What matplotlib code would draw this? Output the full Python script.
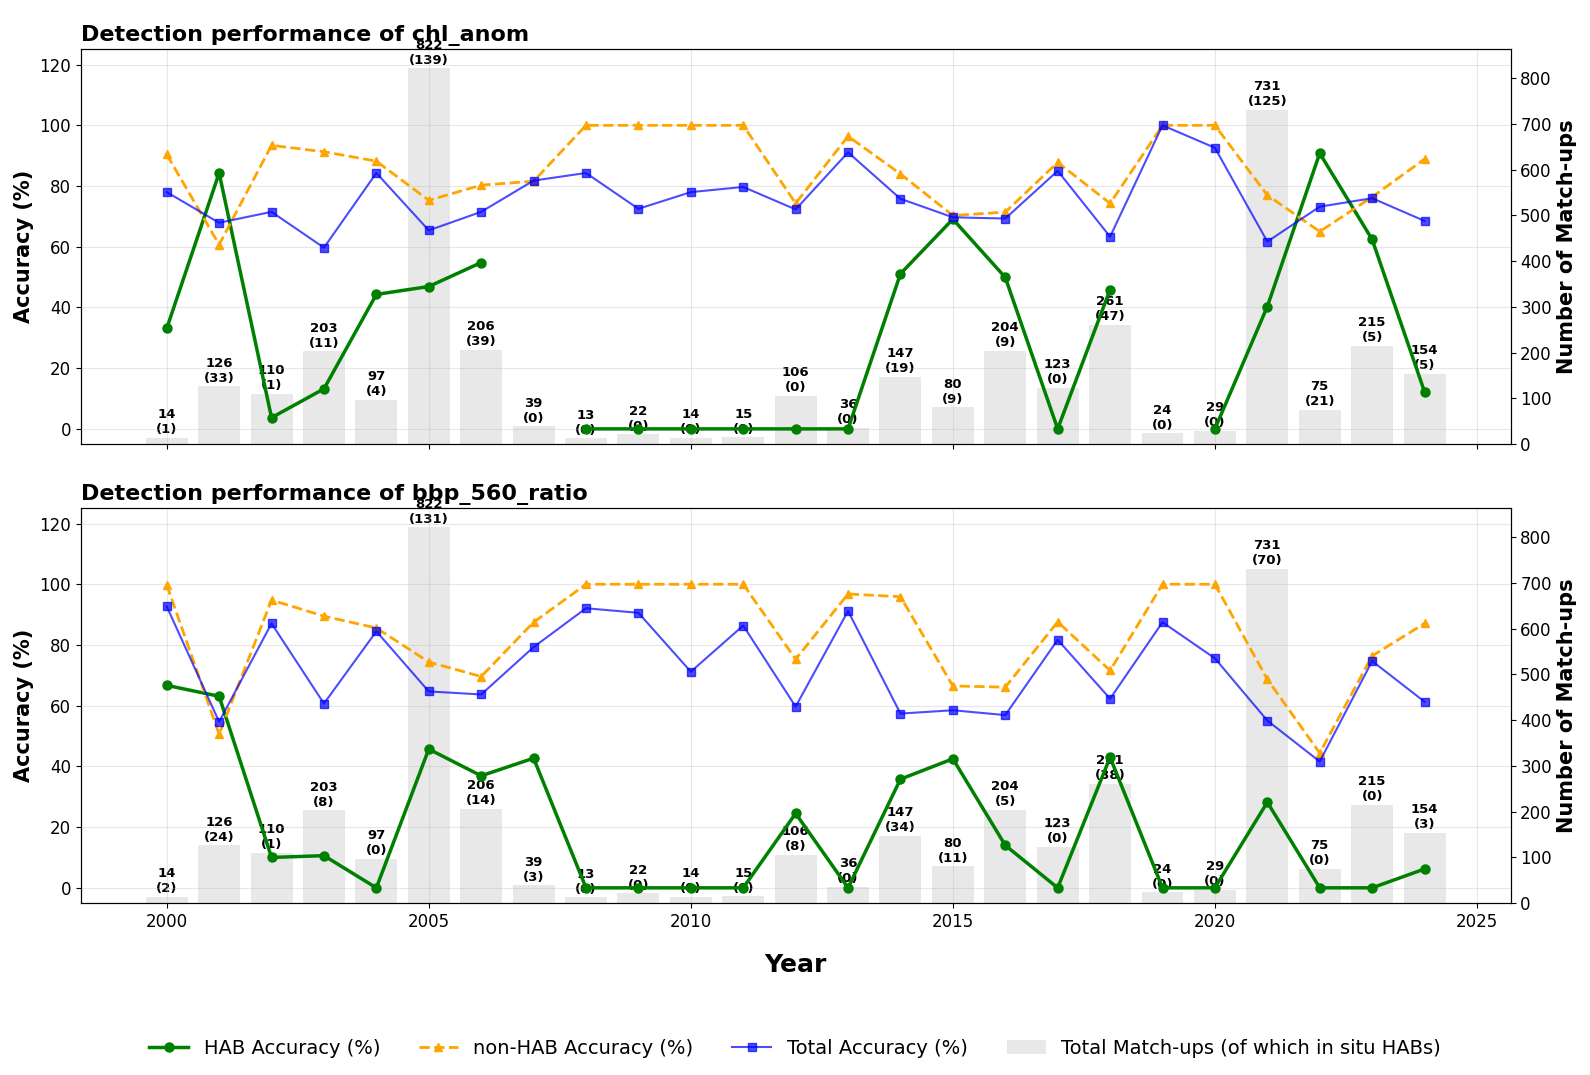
import numpy as np
import matplotlib
matplotlib.use('Agg')
import matplotlib.pyplot as plt
from matplotlib.lines import Line2D
from matplotlib.patches import Patch

years = list(range(2000, 2025))

# Total match-ups per year (same for both indices)
total_matchups = [14, 126, 110, 203, 97, 822, 206, 39, 13, 22, 14, 15, 106,
                  36, 147, 80, 204, 123, 261, 24, 29, 731, 75, 215, 154]

# chl_anom
chl_hab_counts = [1, 33, 1, 11, 4, 139, 39, 0, 0, 0, 0, 0, 0,
                  0, 19, 9, 9, 0, 47, 0, 0, 125, 21, 5, 5]
chl_hab_acc = [33.1, 84.3, 3.7, 13.2, 44.3, 46.9, 54.8, np.nan, 0, 0, 0, 0, 0,
               0, 51.1, 69.1, 49.9, 0, 45.9, np.nan, 0, 40.3, 90.8, 62.4, 12.2]
chl_nonhab_acc = [90.4, 60.7, 93.4, 91.3, 88.2, 75.3, 80.3, 81.6, 100, 100, 100, 100, 74.3,
                  96.4, 84.0, 70.3, 71.4, 87.8, 74.3, 100, 100, 77.0, 65.0, 76.4, 88.9]
chl_total_acc = [78.0, 67.9, 71.5, 59.7, 84.3, 65.4, 71.5, 81.8, 84.3, 72.5, 78.0, 79.7, 72.3,
                 91.1, 75.8, 69.7, 69.3, 85.0, 63.3, 100, 92.6, 61.7, 73.2, 76.0, 68.5]

# bbp_560_ratio
bbp_hab_counts = [2, 24, 1, 8, 0, 131, 14, 3, 0, 0, 0, 0, 8,
                  0, 34, 11, 5, 0, 38, 0, 0, 70, 0, 0, 3]
bbp_hab_acc = [66.7, 63.1, 10.0, 10.6, 0, 45.7, 36.9, 42.7, 0, 0, 0, 0, 24.5,
               0, 35.8, 42.5, 14.0, 0, 43.0, 0, 0, 28.2, 0, 0, 6.2]
bbp_nonhab_acc = [99.8, 50.6, 94.8, 89.5, 85.6, 74.4, 69.6, 87.5, 100, 100, 100, 100, 75.3,
                  96.8, 95.9, 66.5, 66.1, 87.6, 71.6, 100, 100, 68.7, 44.4, 76.4, 87.1]
bbp_total_acc = [92.7, 54.7, 87.1, 60.7, 84.5, 64.7, 63.7, 79.3, 92.1, 90.6, 71.2, 86.4, 59.7,
                 91.2, 57.4, 58.5, 56.9, 81.7, 62.3, 87.5, 75.6, 55.1, 41.6, 74.7, 61.3]

panels = [
    ('chl_anom', chl_hab_acc, chl_nonhab_acc, chl_total_acc, chl_hab_counts),
    ('bbp_560_ratio', bbp_hab_acc, bbp_nonhab_acc, bbp_total_acc, bbp_hab_counts),
]

fig, axes = plt.subplots(2, 1, figsize=(15.9, 10.75), dpi=100, sharex=True)
fig.subplots_adjust(left=0.0508, right=0.950, top=0.954, bottom=0.160, hspace=0.163)

for ax, (name, hab, nonhab, total, hab_n) in zip(axes, panels):
    ax2 = ax.twinx()
    ax2.bar(years, total_matchups, width=0.8, color='lightgray', alpha=0.5)
    for x, n, h in zip(years, total_matchups, hab_n):
        ax2.annotate(f'{n}\n({h})', (x, n), xytext=(0, 1), textcoords='offset points',
                     ha='center', va='bottom', fontsize=9.5, fontweight='bold')
    ax2.set_ylim(0, max(total_matchups) * 1.05)
    ax2.set_ylabel('Number of Match-ups', fontsize=15, fontweight='bold')
    ax2.tick_params(labelsize=12)

    # lines on top of bars
    ax.set_zorder(ax2.get_zorder() + 1)
    ax.patch.set_visible(False)

    ax.plot(years, hab, color='green', marker='o', lw=2.5, ms=6.5)
    ax.plot(years, nonhab, color='orange', marker='^', ls='--', lw=2, ms=6)
    ax.plot(years, total, color='blue', marker='s', lw=1.5, ms=6, alpha=0.7)

    ax.set_ylim(-5, 125)
    ax.set_ylabel('Accuracy (%)', fontsize=15, fontweight='bold')
    ax.set_title(f'Detection performance of {name}', loc='left',
                 fontsize=16, fontweight='bold')
    ax.grid(True, alpha=0.3)
    ax.tick_params(labelsize=12)

axes[1].set_xlabel('Year', fontsize=18, fontweight='bold', labelpad=16)
axes[1].set_xticks([2000, 2005, 2010, 2015, 2020, 2025])

handles = [
    Line2D([], [], color='green', marker='o', lw=2.5, ms=6.5, label='HAB Accuracy (%)'),
    Line2D([], [], color='orange', marker='^', ls='--', lw=2, ms=6, label='non-HAB Accuracy (%)'),
    Line2D([], [], color='blue', marker='s', lw=1.5, ms=6, alpha=0.7, label='Total Accuracy (%)'),
    Patch(facecolor='lightgray', alpha=0.5, label='Total Match-ups (of which in situ HABs)'),
]
fig.legend(handles=handles, loc='lower center', bbox_to_anchor=(0.5, 0.0),
           ncol=4, frameon=False, fontsize=14, columnspacing=2.0)

fig.savefig('out.png', dpi=100)
